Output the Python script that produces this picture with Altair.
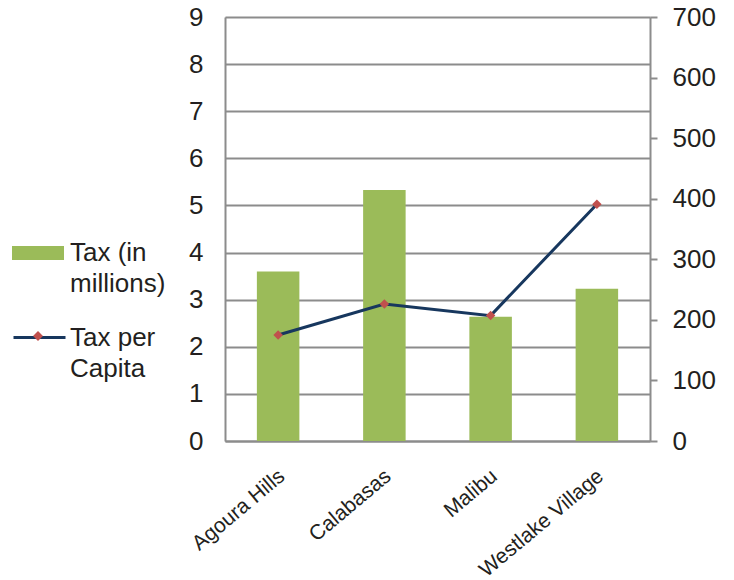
import altair as alt
import pandas as pd

cities = ["Agoura Hills", "Calabasas", "Malibu", "Westlake Village"]
tax_millions = [3.6, 5.33, 2.64, 3.23]
tax_per_capita = [175, 226, 207, 391]
series_bar = "Tax (in millions)"
series_line = "Tax per Capita"
series_marker = "Tax per Capita "
left_ticks = list(range(0, 10))
right_ticks = list(range(0, 800, 100))

GREEN = "#9BBB59"
NAVY = "#17375E"
RED = "#C0504D"
GRID = "#8C8C8C"
TEXT = "#231F20"
FONT = "Liberation Sans"

df = pd.DataFrame({"city": cities, "tax": tax_millions, "pc": tax_per_capita})
df["s1"] = series_bar
df["s2"] = series_line
df["s3"] = series_marker

label_expr = ("datum.label == 'Tax (in millions)' ? ['Tax (in', 'millions)'] "
              ": ['Tax per', 'Capita']")

x_enc = alt.X(
    "city:N", sort=cities, title=None,
    scale=alt.Scale(paddingInner=0.6, paddingOuter=0.3),
    axis=alt.Axis(labelAngle=-40, labelFontSize=21, labelPadding=24, labelOffset=-3,
                  ticks=False, tickSize=0, domainColor=GRID, domainWidth=2,
                  labelColor=TEXT, labelFont=FONT),
)

legend_common = dict(orient="none", title=None, labelFontSize=26, labelFont=FONT,
                     labelColor=TEXT, labelExpr=label_expr, labelLimit=300,
                     padding=0, symbolSize=2704)

bars = alt.Chart(df).mark_bar().encode(
    x=x_enc,
    y=alt.Y("tax:Q", title=None,
            scale=alt.Scale(domain=[0, 9], nice=False, zero=True),
            axis=alt.Axis(values=left_ticks, grid=True, gridColor=GRID, gridWidth=2,
                          ticks=False, tickSize=0, domainColor=GRID, domainWidth=2,
                          labelFontSize=26, labelPadding=22, labelColor=TEXT,
                          labelFont=FONT)),
    fill=alt.Fill("s1:N", scale=alt.Scale(domain=[series_bar], range=[GREEN]),
                  legend=alt.Legend(symbolType="M-1,-0.27H1V0.27H-1Z",
                                    symbolStrokeWidth=0, legendX=-213, legendY=210,
                                    labelOffset=6, **legend_common)),
)

y_right = alt.Y("pc:Q", title=None,
                scale=alt.Scale(domain=[0, 700], nice=False),
                axis=alt.Axis(orient="right", values=right_ticks, grid=False,
                              tickSize=7, tickColor=GRID, tickWidth=2,
                              domainColor=GRID, domainWidth=2, labelFontSize=26,
                              labelPadding=15, labelColor=TEXT, labelFont=FONT))

line = alt.Chart(df).mark_line(strokeWidth=3).encode(
    x=x_enc, y=y_right,
    stroke=alt.Stroke("s2:N", scale=alt.Scale(domain=[series_line], range=[NAVY]),
                      legend=alt.Legend(symbolType="M-1,0H1", symbolStrokeWidth=3,
                                        legendX=-213, legendY=293, labelOffset=3,
                                        **legend_common)),
)

points = alt.Chart(df).mark_point(shape="diamond", filled=True, size=90, color=RED).encode(
    x=x_enc, y=y_right,
    opacity=alt.Opacity("s3:N", scale=alt.Scale(domain=[series_marker], range=[1]),
                        legend=alt.Legend(symbolType="M-0.19,0L0,-0.19L0.19,0L0,0.19Z",
                                          symbolFillColor=RED, symbolStrokeWidth=0,
                                          labelOpacity=0, legendX=-213, legendY=293,
                                          labelOffset=6, **legend_common)),
)

chart = alt.layer(bars, alt.layer(line, points)).resolve_scale(y="independent").properties(
    width=425, height=424,
    padding={"left": 225, "top": 17, "right": 84, "bottom": 139},
    autosize=alt.AutoSizeParams(type="none"),
).configure_view(stroke="transparent").configure(
    font=FONT, background="white", style={"guide-label": {"lineHeight": 31}}
)

chart.save("out.html", embed_options={"renderer": "svg", "actions": False})
